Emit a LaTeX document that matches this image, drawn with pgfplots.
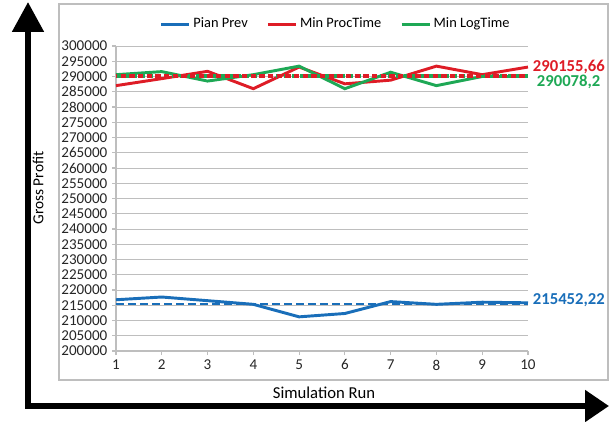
\documentclass[border=0pt]{standalone}
\usepackage{pgfplots}
\pgfplotsset{compat=1.18}
\usepackage{fontspec}
\setmainfont{Carlito}
\usetikzlibrary{arrows.meta}
\definecolor{cblue}{RGB}{25,110,185}
\definecolor{cred}{RGB}{222,28,38}
\definecolor{cgreen}{RGB}{30,168,85}
\definecolor{cgrid}{RGB}{190,190,190}
\begin{document}
\begin{tikzpicture}
\path[use as bounding box] (0pt,0pt) rectangle (456.75pt,315.75pt);
\draw[cgrid, line width=0.8pt] (44.25pt,30.75pt) rectangle (456pt,312.75pt);
\begin{axis}[
  at={(87pt,52.5pt)}, anchor=south west,
  scale only axis, width=309pt, height=228.75pt,
  xmin=1, xmax=10, ymin=200000, ymax=300000,
  xtick={1,2,3,4,5,6,7,8,9,10},
  xticklabels={1,2,3,4,5,6,7,8,9,10},
  ytick={200000,205000,210000,215000,220000,225000,230000,235000,240000,245000,250000,255000,260000,265000,270000,275000,280000,285000,290000,295000,300000},
  yticklabels={200000,205000,210000,215000,220000,225000,230000,235000,240000,245000,250000,255000,260000,265000,270000,275000,280000,285000,290000,295000,300000},
  scaled ticks=false,
  ticklabel style={font=\fontsize{11.3}{12}\selectfont, text=black!85},
  axis x line=bottom, axis y line=left,
  axis line style={-, cgrid, line width=0.8pt},
  tick style={cgrid, line width=0.8pt},
  tick align=outside, major tick length=3pt,
  ymajorgrids, grid style={cgrid, line width=0.6pt},
  clip=false,
  xlabel={Simulation Run},
  xlabel style={at={(axis description cs:0.505,-0.1377)}, anchor=center, font=\fontsize{12.5}{14}\selectfont},
  ylabel={Gross Profit},
  ylabel style={at={(axis description cs:-0.1893,0.5344)}, anchor=center, font=\fontsize{11.5}{13}\selectfont},
  legend columns=3,
  legend style={at={(axis description cs:0.534,1.072)}, anchor=center, draw=none, fill=none,
    font=\fontsize{10.8}{12}\selectfont,
    /tikz/every even column/.append style={column sep=12pt}},
  legend image code/.code={\draw[#1] (0pt,0pt) -- (21pt,0pt);},
]
\addplot[cblue, line width=2.2pt] coordinates {(1,216800) (2,217700) (3,216500) (4,215300) (5,211200) (6,212300) (7,216200) (8,215300) (9,216000) (10,215800)};
\addlegendentry{Pian Prev}
\addplot[cred, line width=2.2pt] coordinates {(1,287000) (2,289300) (3,291700) (4,286000) (5,293100) (6,287600) (7,288800) (8,293400) (9,290600) (10,293100)};
\addlegendentry{Min ProcTime}
\addplot[cgreen, line width=2.2pt] coordinates {(1,290600) (2,291600) (3,288500) (4,290600) (5,293400) (6,286000) (7,291400) (8,287000) (9,290000) (10,290000)};
\addlegendentry{Min LogTime}
\addplot[cgreen, line width=3pt, dash pattern=on 4pt off 2pt, forget plot] coordinates {(1,290078.2) (10,290078.2)};
\addplot[cred, line width=3pt, dash pattern=on 4pt off 2.5pt, dash phase=3pt, forget plot] coordinates {(1,290155.66) (10,290155.66)};
\addplot[cblue, line width=1.4pt, dash pattern=on 6pt off 3pt, forget plot] coordinates {(1,215452.22) (10,215452.22)};
\node[anchor=west, text=cred, font=\fontsize{12.5}{14}\selectfont\bfseries, inner sep=0pt] at (axis cs:10,293100) [xshift=3.5pt] {290155,66};
\node[anchor=west, text=cgreen, font=\fontsize{12.5}{14}\selectfont\bfseries, inner sep=0pt] at (axis cs:10,288200) [xshift=6.5pt] {290078,2};
\node[anchor=west, text=cblue, font=\fontsize{12.5}{14}\selectfont\bfseries, inner sep=0pt] at (axis cs:10,216700) [xshift=3.5pt] {215452,22};
\end{axis}
\draw[line width=4.5pt, line join=miter, {Triangle[length=22.5pt,width=23pt]}-{Triangle[length=18pt,width=23pt]}] (21pt,314.25pt) -- (21pt,11.25pt) -- (456.75pt,11.25pt);
\end{tikzpicture}
\end{document}
